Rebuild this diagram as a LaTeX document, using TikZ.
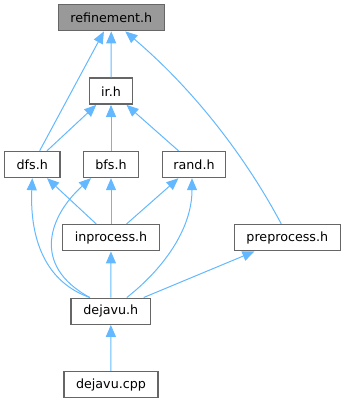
\documentclass[tikz,border=0pt]{standalone}
\usepackage{fontspec}
\setmainfont{DejaVu Sans}
\usetikzlibrary{arrows.meta}
\definecolor{edgeblue}{HTML}{63B8FF}
\definecolor{boxgray}{HTML}{666666}
\definecolor{hifill}{HTML}{999999}
\begin{document}
\begin{tikzpicture}[x=1pt,y=-1pt,
  box/.style={draw=boxgray,line width=1.4pt,fill=white,inner sep=0pt,minimum height=26pt,font=\fontsize{12.7}{14}\selectfont},
  hibox/.style={box,fill=hifill},
  dep/.style={draw=edgeblue,line width=1pt,-{Triangle[length=12pt,width=10pt,fill=edgeblue]}}]
\useasboundingbox (0,0) rectangle (345,403);
\node[hibox,minimum width=106pt] (ref) at (111.3,17.7) {refinement.h};
\node[box,minimum width=43.4pt] (ir) at (111,91.2) {ir.h};
\node[box,minimum width=55.3pt] (dfs) at (32.3,164.5) {dfs.h};
\node[box,minimum width=55.3pt] (bfs) at (111,164.5) {bfs.h};
\node[box,minimum width=63.4pt] (rand) at (194,164.5) {rand.h};
\node[box,minimum width=96.6pt] (inp) at (111,237.7) {inprocess.h};
\node[box,minimum width=106pt] (pre) at (287.3,237.7) {preprocess.h};
\node[box,minimum width=79.7pt] (dj) at (110.8,311.2) {dejavu.h};
\node[box,minimum width=94pt] (cpp) at (111,384.5) {dejavu.cpp};
% straight edges
\draw[dep] (ir) -- (ref);
\draw[dep] (dfs) -- (ref);
\draw[dep] (dfs) -- (ir);
\draw[dep] (bfs) -- (ir);
\draw[dep] (rand) -- (ir);
\draw[dep] (inp) -- (dfs);
\draw[dep] (inp) -- (bfs);
\draw[dep] (inp) -- (rand);
\draw[dep] (dj) -- (inp);
\draw[dep] (dj) -- (pre);
\draw[dep] (cpp) -- (dj);
% curved edges
\coordinate (preT) at ([xshift=-6]pre.north);
\coordinate (refB) at ([xshift=14]ref.south);
\draw[dep] (preT) .. controls (250,165) and (200,95) .. (refB);
\coordinate (djL) at ([xshift=-21]dj.north);
\coordinate (djR) at ([xshift=16]dj.north);
\draw[dep] (djL) .. controls (40,280) and (30,230) .. (dfs.south);
\draw[dep] (djL) .. controls (30,265) and (50,215) .. ([xshift=-20]bfs.south);
\draw[dep] (djR) .. controls (162,270) and (192,230) .. ([xshift=-2]rand.south);
\end{tikzpicture}
\end{document}
